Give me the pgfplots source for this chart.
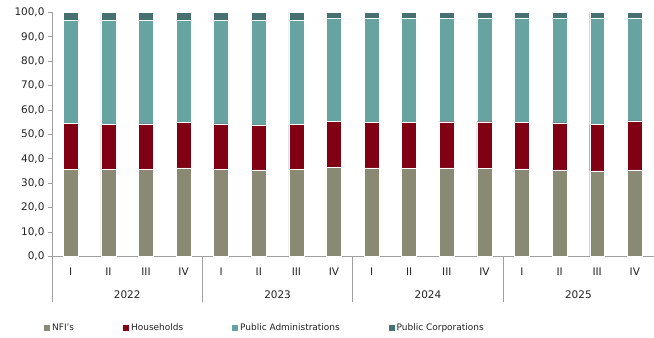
\documentclass[border=0pt]{standalone}
\usepackage{pgfplots}
\usepackage{pgfplotstable}
\usepackage{fontspec}
\setmainfont{DejaVu Sans}
\pgfplotsset{compat=1.18}
\definecolor{cnfi}{HTML}{8A8A74}
\definecolor{chh}{HTML}{800014}
\definecolor{cpa}{HTML}{66A3A1}
\definecolor{cpc}{HTML}{467170}
\definecolor{caxis}{HTML}{A0A0A0}
\definecolor{ctext}{HTML}{222222}
\pgfplotstableread{
x nfi hh pa pc
0 35.6 18.8 42.3 3.3
1 35.8 18.2 42.7 3.3
2 35.8 18.5 42.4 3.3
3 36.3 18.6 41.8 3.3
4 35.8 18.5 42.4 3.3
5 35.5 18.4 42.8 3.3
6 35.8 18.2 42.7 3.3
7 36.6 18.7 42.2 2.5
8 36.3 18.6 42.6 2.5
9 36.2 18.7 42.6 2.5
10 36.3 18.9 42.3 2.5
11 36.2 19.0 42.3 2.5
12 35.9 19.1 42.8 2.2
13 35.5 19.2 43.1 2.2
14 35.0 19.1 43.7 2.2
15 35.5 20.1 42.2 2.2
}\data
\begin{document}
\begin{tikzpicture}
\begin{axis}[
  scale only axis, width=602bp, height=244bp,
  ybar stacked, bar width=15bp,
  xmin=-0.5, xmax=15.5, ymin=0, ymax=100,
  axis x line=bottom, axis y line=left,
  axis line style={caxis, line width=0.8bp, -},
  x axis line style={-}, y axis line style={-},
  xtick=data,
  xticklabels={I,II,III,IV,I,II,III,IV,I,II,III,IV,I,II,III,IV},
  x tick style={draw=none},
  ytick={0,10,...,100},
  y tick style={caxis, line width=0.8bp},
  tick align=outside, major tick length=4bp,
  yticklabel style={/pgf/number format/.cd, fixed, fixed zerofill, precision=1, use comma, 1000 sep={}, assume math mode=true},
  ticklabel style={font=\fontsize{10.5}{12}\selectfont, text=ctext},
  xticklabel style={yshift=-4bp},
  legend columns=4,
  legend cell align=left,
  legend style={draw=none, fill=none, inner sep=0pt, font=\fontsize{9}{11}\selectfont, text=ctext,
    at={(rel axis cs:-0.0133,-0.292)}, anchor=west,
    /tikz/every even column/.append style={column sep=47bp}},
  legend image code/.code={\fill[#1,draw=none] (0bp,-3bp) rectangle (6bp,3bp);},
  clip=false,
]
\addplot[fill=cnfi, draw=white, line width=0.4bp] table[x=x,y=nfi]{\data};
\addplot[fill=chh, draw=white, line width=0.4bp] table[x=x,y=hh]{\data};
\addplot[fill=cpa, draw=white, line width=0.4bp] table[x=x,y=pa]{\data};
\addplot[fill=cpc, draw=white, line width=0.4bp] table[x=x,y=pc]{\data};
\legend{NFI's,Households,Public Administrations,Public Corporations}
\draw[caxis, line width=0.8bp] (axis cs:-0.5,0) -- ([yshift=-45.5bp]axis cs:-0.5,0);
\draw[caxis, line width=0.8bp] (axis cs:3.5,0) -- ([yshift=-45.5bp]axis cs:3.5,0);
\draw[caxis, line width=0.8bp] (axis cs:7.5,0) -- ([yshift=-45.5bp]axis cs:7.5,0);
\draw[caxis, line width=0.8bp] (axis cs:11.5,0) -- ([yshift=-45.5bp]axis cs:11.5,0);
\node[text=ctext, font=\fontsize{10.5}{12}\selectfont, yshift=-38.5bp] at (axis cs:1.5,0) {2022};
\node[text=ctext, font=\fontsize{10.5}{12}\selectfont, yshift=-38.5bp] at (axis cs:5.5,0) {2023};
\node[text=ctext, font=\fontsize{10.5}{12}\selectfont, yshift=-38.5bp] at (axis cs:9.5,0) {2024};
\node[text=ctext, font=\fontsize{10.5}{12}\selectfont, yshift=-38.5bp] at (axis cs:13.5,0) {2025};
\end{axis}
\path[use as bounding box] (-52bp,-81.5bp) rectangle (602bp,256.5bp);
\end{tikzpicture}
\end{document}
